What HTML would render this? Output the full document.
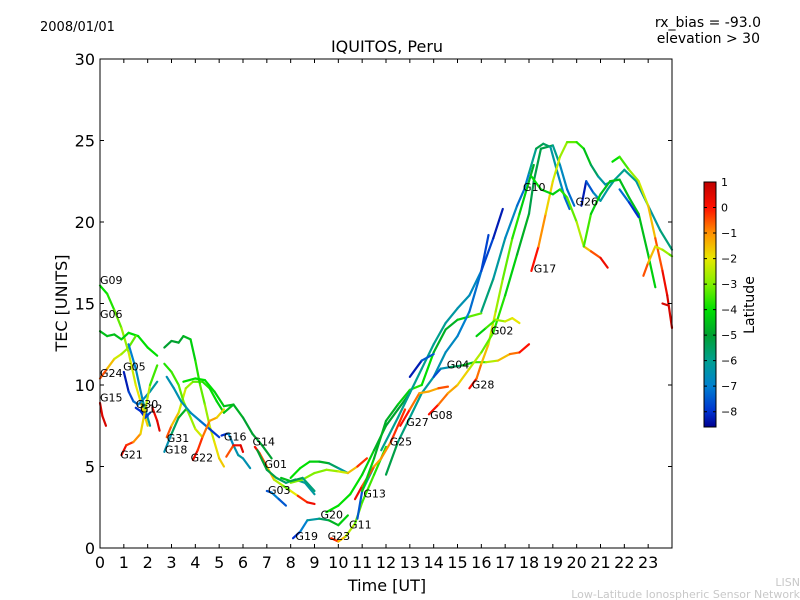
<!DOCTYPE html>
<html><head><meta charset="utf-8"><style>
body{margin:0;background:#fff;}
svg{display:block;font-family:"DejaVu Sans","Liberation Sans",sans-serif;}
</style></head><body>
<svg id="chart" width="800" height="600" viewBox="0 0 800 600">
<defs>
<linearGradient id="cbgrad" x1="0" y1="1" x2="0" y2="0">
<stop offset="0" stop-color="#00008f"/>
<stop offset="0.062" stop-color="#0030d0"/>
<stop offset="0.167" stop-color="#0080d0"/>
<stop offset="0.271" stop-color="#00a090"/>
<stop offset="0.375" stop-color="#00a030"/>
<stop offset="0.479" stop-color="#00e000"/>
<stop offset="0.583" stop-color="#80f000"/>
<stop offset="0.688" stop-color="#e8e800"/>
<stop offset="0.792" stop-color="#ff9000"/>
<stop offset="0.896" stop-color="#ff1000"/>
<stop offset="1" stop-color="#c00000"/>
</linearGradient>
</defs>
<text x="40" y="31" font-size="13">2008/01/01</text>
<text x="761" y="27" font-size="14" text-anchor="end">rx_bias = -93.0</text>
<text x="760" y="43" font-size="14" text-anchor="end">elevation &gt; 30</text>
<text x="387" y="52" font-size="16" text-anchor="middle">IQUITOS, Peru</text>
<g id="traces"></g>
<g id="labels"></g>
<rect x="100" y="59" width="572" height="489" fill="none" stroke="#000" stroke-width="1"/>
<g id="xaxis"></g>
<g id="yaxis"></g>
<text x="387" y="591" font-size="16" text-anchor="middle">Time [UT]</text>
<text transform="translate(67,303) rotate(-90)" font-size="16" text-anchor="middle">TEC [UNITS]</text>
<rect x="704" y="182" width="12" height="245" fill="url(#cbgrad)" stroke="#000" stroke-width="1"/>
<g id="cbticks"></g>
<text transform="translate(754,305) rotate(-90)" font-size="14" text-anchor="middle">Latitude</text>
<text x="800" y="586" font-size="11" fill="#c8c8c8" text-anchor="end">LISN</text>
<text x="800" y="598" font-size="11" fill="#c8c8c8" text-anchor="end">Low-Latitude Ionospheric Sensor Network</text>
</svg>
<script>
const xTicks=[0,1,2,3,4,5,6,7,8,9,10,11,12,13,14,15,16,17,18,19,20,21,22,23];
const yTicks=[0,5,10,15,20,25,30];
const cbTicks=[1,0,-1,-2,-3,-4,-5,-6,-7,-8];
const satNames=["G09","G06","G24","G05","G15","G30","G12","G21","G31","G18","G16","G22","G14","G01","G03","G19","G20","G23","G11","G13","G25","G27","G08","G28","G04","G02","G17","G10","G26"];
const satLabelT=[0,0,0,0.97,0,1.5,1.68,0.85,2.8,2.72,5.2,3.8,6.4,6.9,7.05,8.2,9.25,9.55,10.45,11.05,12.15,12.85,13.85,15.6,14.55,16.4,18.2,17.75,19.95];
const satLabelV=[16.2,14.1,10.5,10.9,9.0,8.6,8.3,5.5,6.5,5.8,6.6,5.3,6.3,4.9,3.3,0.5,1.8,0.5,1.2,3.1,6.3,7.5,7.9,9.8,11.0,13.1,16.9,21.9,21.0];
const traceT=[
[0,0.3,0.6,0.9,1.2,1.5,1.8,2.0],
[0,0.3,0.6,0.9,1.2,1.6,2.0,2.4],
[0,0.3,0.6,0.9,1.2,1.5],
[1.0,1.2,1.4,1.6,1.8,2.1,2.4],
[1.2,1.5,1.8,2.1],
[0,0.1,0.25],
[1.5,1.8,2.0],
[1.7,1.9,2.1],
[0.9,1.1,1.4,1.7,1.9,2.1,2.4],
[2.2,2.4,2.5],
[2.7,3.0,3.3,3.6,3.8],
[2.8,3.0,3.3,3.6,3.9,4.3,4.6,4.9,5.2,5.6],
[2.7,3.0,3.3,3.5,3.8,4.0,4.2,4.4,4.6,4.8,5.0,5.2],
[2.7,3.0,3.3,3.5,3.8,4.0,4.3],
[2.8,3.1,3.4,3.8,4.2,4.6,5.0],
[3.5,4.0,4.4,4.8,5.2,5.6,6.0,6.4,6.8,7.2],
[3.9,4.1,4.3,4.6,4.9,5.2],
[5.1,5.3,5.4,5.6,5.8,6.0,6.3],
[5.3,5.6,5.9,6.0],
[6.5,6.7,7.0,7.3,7.7,8.0,8.3,8.7,9.0],
[6.6,7.0,7.4,7.8,8.2,8.6,9.0],
[7.0,7.2,7.5,7.8],
[8.0,8.4,8.8,9.2,9.6,10.0,10.4],
[8.0,8.5,9.0,9.5,10.0,10.4,10.8,11.2],
[7.6,8.0,8.5,9.0],
[8.1,8.4,8.7,9.2,9.6,10.0,10.4],
[9.5,10.0,10.5,11.0,11.5,12.0,12.5,13.0],
[9.7,10.0,10.3,10.7,11.0,11.5,12.0],
[10.8,11.0,11.5],
[10.7,11.0,11.5,11.8,12.2,12.5,12.8],
[11.0,11.5,12.0,12.5,13.0,13.5,14.0,14.5,15.0,15.5,16.0],
[11.8,12.5,13.0,13.5,14.0,14.5,15.0,15.5,16.0,16.3],
[12.0,12.5,13.0,13.5,14.0,14.5,15.0,15.5,16.0,16.5,16.9],
[13.0,13.5,14.0],
[14.0,14.3,14.7,15.2,15.7,16.2,16.7,17.2,17.6,18.0],
[15.5,15.8,16.0,16.3,16.6,16.9,17.3,17.6,18.0,18.2],
[13.8,14.2,14.6,15.0,15.5,16.0,16.5,17.0,17.5,18.0,18.2,18.5,19.0,19.3,19.6,19.9],
[12.6,13.0,13.4,13.8,14.2,14.6],
[15.8,16.2,16.6,17.0,17.3,17.6],
[16.0,16.5,17.0,17.5,17.8,18.0,18.3,18.6,18.9,19.2,19.5,19.7],
[18.1,18.4,18.7,19.0,19.3,19.6,20.0,20.3,20.6,20.9,21.2,21.5],
[20.2,20.4,20.7,21.0,21.3,21.6,22.0,22.5,23.0,23.5,24.0],
[18.1,18.5,19.0,19.3,19.6,20.0,20.3,20.6,21.0,21.3],
[20.3,20.6,21.0,21.4,21.8,22.2,22.6,23.0,23.3],
[21.5,21.8,22.2,22.6,23.0,23.3,23.6,23.8,24.0],
[22.8,23.0,23.3,23.6,23.9,24.0],
[21.8,22.2,22.6],
[23.6,23.8]
];
const traceV=[
[16.1,15.6,14.6,13.5,12.0,10.0,8.5,7.5],
[13.3,13.0,13.1,12.8,13.2,13.0,12.3,11.8],
[10.4,11.0,11.6,11.9,12.3,13.0],
[10.8,9.6,9.0,8.8,9.1,9.6,10.2],
[12.5,11.0,9.0,7.5],
[8.9,8.1,7.5],
[8.6,8.3,8.1],
[8.4,8.0,8.3],
[5.7,6.3,6.5,7.0,8.5,10.0,11.2],
[8.6,7.8,7.2],
[5.9,7.0,8.0,8.5,8.3],
[6.8,7.5,8.3,9.8,10.2,10.2,9.8,9.0,8.3,8.8],
[12.3,12.7,12.6,13.0,12.8,11.5,10.0,8.8,7.5,6.5,5.5,5.0],
[11.3,10.8,10.0,9.0,8.0,7.3,6.8],
[10.5,9.8,9.0,8.3,7.8,7.3,6.8],
[10.2,10.4,10.3,9.6,8.7,8.8,8.0,7.0,6.3,5.5],
[5.4,6.0,6.8,7.8,8.0,8.5],
[6.9,7.0,7.0,6.3,5.7,5.5,4.9],
[5.6,6.3,6.3,5.9],
[6.2,5.8,5.0,4.2,3.8,3.5,3.2,2.8,2.7],
[6.0,4.8,4.3,4.0,4.2,4.0,3.3],
[3.5,3.4,3.0,2.6],
[4.3,4.9,5.3,5.3,5.2,4.9,4.6],
[4.0,4.2,4.6,4.8,4.7,4.6,5.0,5.5],
[4.3,4.1,4.3,3.5],
[0.6,1.0,1.7,1.8,1.7,1.4,2.0],
[2.2,2.6,3.3,4.5,6.0,7.5,8.5,9.5],
[0.6,0.4,0.7,1.5,2.8,4.5,6.2],
[1.8,3.5,5.0],
[3.0,3.8,5.0,5.5,6.5,7.5,8.5],
[3.5,5.5,7.8,8.8,9.7,10.0,12.0,13.4,14.0,14.2,14.4],
[6.0,8.0,9.5,11.0,12.5,13.8,14.7,15.5,17.0,19.2],
[4.5,6.5,8.0,9.5,10.5,12.0,13.0,14.5,17.0,19.0,20.8],
[10.5,11.5,11.9],
[10.5,11.0,11.1,11.2,11.4,11.4,11.5,11.9,12.0,12.5],
[9.8,10.4,11.3,12.5,14.5,16.5,19.0,20.5,22.5,23.5],
[8.2,8.8,9.5,10.0,11.0,12.0,13.2,15.5,18.0,20.5,22.5,24.5,24.7,23.5,22.0,21.0],
[7.5,8.5,9.5,9.6,9.8,9.9],
[13.0,13.5,14.0,13.9,14.1,13.8],
[14.5,16.5,19.0,21.0,22.0,23.0,24.5,24.8,24.6,23.0,21.5,20.8],
[17.0,18.5,20.5,22.5,24.0,24.9,24.9,24.5,23.5,22.8,22.3,22.5],
[21.0,22.5,21.8,21.3,22.0,22.6,23.2,22.5,21.0,19.5,18.3],
[22.8,22.0,21.7,22.0,21.5,20.0,18.5,18.2,17.8,17.2],
[18.5,20.5,21.7,22.5,22.6,21.5,20.5,18.0,16.0],
[23.7,24.0,23.2,22.5,21.0,19.0,17.0,15.5,13.5],
[16.7,17.5,18.5,18.3,18.0,17.9],
[22.0,21.2,20.3],
[15.0,14.9]
];
const traceLat=[
[-4,-4,-3.5,-3,-2.5,-2,-2,-1.5],
[-4.5,-4.5,-4.5,-4.5,-4,-4,-4,-4],
[0,-1,-2,-2.5,-3,-3.5],
[-8.5,-8,-7.5,-7,-7,-6.5,-6],
[-7,-7,-6.5,-6],
[0.5,0.5,0.8],
[-8,-8,-8],
[-8.2,-8,-7.5],
[0.5,0,-0.5,-1.5,-2,-3,-4],
[0,0.5,0.5],
[-7,-6,-5,-4.5,-4.5],
[0,-1,-2,-2.5,-3,-3.5,-4,-4,-4.5,-4.5],
[-5,-5,-5,-4.8,-4.5,-4,-3.5,-3,-2.5,-2,-1.8,-1.5],
[-4,-3.5,-3.5,-3,-3,-2.5,-2],
[-6.5,-6.5,-6.5,-6.5,-7,-7.5,-8.2],
[-4,-4,-4,-4,-4.5,-4.5,-5,-5,-5,-5],
[0.5,0,-0.5,-1,-1.5,-2],
[-8,-8,-7,-6.5,-6.5,-6,-7],
[-1,0,0.5,0.5],
[0.5,0,-1,-2,-3,-3.5,-0.5,0,0.5],
[-5,-5,-5.5,-5.5,-6,-6,-6.5],
[-8.2,-7,-7,-8],
[-4,-4,-4,-4.5,-5,-6,-6.5],
[-3,-3,-3,-3,-2.5,-2,-1,0.5],
[-4,-5,-5.5,-6],
[-8.5,-7.5,-6.5,-6,-5,-4.5,-4],
[-4,-4,-4,-4,-4.5,-5,-5,-5],
[0.5,-1,-2,-3,-3.5,-3.5,-4],
[-8,-7,-5],
[0.5,0,-1,-1.5,-0.5,0,-0.5],
[-4,-4.5,-5,-4.5,-4,-3.5,-4.5,-5,-4.5,-4,-2.5],
[-6,-6,-6,-6,-6,-6,-6.5,-6.5,-7,-8.5],
[-5,-5.5,-6,-6,-6.5,-6.5,-7,-7,-7.5,-8,-8.5],
[-8.5,-8,-7],
[-8.2,-7,-6,-5,-4,-3,-2,-1,-0.5,0.5],
[0.5,-0.5,-1,-2,-2.5,-3,-3.5,-4,-4.5,-5],
[0.5,-0.5,-1,-1.5,-2,-3,-3.5,-4,-4.5,-5,-5.5,-5,-5.5,-6.5,-7,-7.5],
[0.5,-0.5,-1,-1.5,-1,0],
[-4.5,-4,-3,-2.5,-2,-2],
[-5.5,-6,-6.5,-7,-7.5,-6.5,-5.5,-5,-6,-6.5,-7,-7.5],
[0.5,-0.5,-1.5,-2,-2.5,-3,-3.5,-4,-5,-6,-6.5,-7],
[-8.5,-8,-7,-6.5,-6,-6,-6,-6,-6.5,-6,-5.5],
[-4,-4,-4.5,-4,-3.5,-3,-2,-1,0,0.5],
[-3,-4,-4.5,-4.5,-4.5,-4.5,-4.5,-4.5,-4],
[-4,-4,-3,-2.5,-2,-1,0,0.5,0.8],
[0,-1,-2,-2.5,-3,-3.5],
[-7,-7.5,-8.5],
[0.5,0.8]
];
const NS="http://www.w3.org/2000/svg";
const X0=100,X1=672,Y0=548,Y1=59;
function xs(t){return X0+(t/24)*(X1-X0);}
function ys(v){return Y0-(v/30)*(Y0-Y1);}
function cy(l){return 427-(l+8.6)/9.6*245;}
const stops=[[-8.6,[0,0,143]],[-8,[0,48,208]],[-7,[0,128,208]],[-6,[0,160,144]],[-5,[0,160,48]],[-4,[0,224,0]],[-3,[128,240,0]],[-2,[232,232,0]],[-1,[255,144,0]],[0,[255,16,0]],[1,[192,0,0]]];
function col(l){
  if(l<=stops[0][0])return "rgb("+stops[0][1]+")";
  for(let i=1;i<stops.length;i++){
    if(l<=stops[i][0]){const a=stops[i-1],b=stops[i];const f=(l-a[0])/(b[0]-a[0]);
      const c=a[1].map((v,k)=>Math.round(v+(b[1][k]-v)*f));return "rgb("+c.join(",")+")";}
  }
  return "rgb(192,0,0)";
}
const tg=document.getElementById("traces");
traceT.forEach((ts,i)=>{
  const g=document.createElementNS(NS,"g");
  
  
  for(let j=0;j<ts.length-1;j++){
    const ln=document.createElementNS(NS,"line");
    ln.setAttribute("x1",xs(ts[j]));ln.setAttribute("y1",ys(traceV[i][j]));
    ln.setAttribute("x2",xs(ts[j+1]));ln.setAttribute("y2",ys(traceV[i][j+1]));
    ln.setAttribute("stroke",col((traceLat[i][j]+traceLat[i][j+1])/2));
    ln.setAttribute("stroke-width","2.2");ln.setAttribute("stroke-linecap","round");
    
    
    g.appendChild(ln);
  }
  tg.appendChild(g);
});
const lg=document.getElementById("labels");
satNames.forEach((n,i)=>{
  const t=document.createElementNS(NS,"text");
  t.setAttribute("x",xs(satLabelT[i]));t.setAttribute("y",ys(satLabelV[i]));
  t.setAttribute("font-size","11");t.textContent=n;
  
  
  lg.appendChild(t);
});
const xg=document.getElementById("xaxis");
xTicks.forEach(v=>{
  const x=xs(v);
  const tk=document.createElementNS(NS,"path");
  tk.setAttribute("d",`M${x},${Y0}v-4M${x},${Y1}v4`);tk.setAttribute("stroke","#000");
  
  
  xg.appendChild(tk);
  const t=document.createElementNS(NS,"text");
  t.setAttribute("x",x);t.setAttribute("y",568);t.setAttribute("font-size","16");t.setAttribute("text-anchor","middle");
  t.textContent=v;
  
  
  xg.appendChild(t);
});
const yg=document.getElementById("yaxis");
yTicks.forEach(v=>{
  const y=ys(v);
  const tk=document.createElementNS(NS,"path");
  tk.setAttribute("d",`M${X0},${y}h4M${X1},${y}h-4`);tk.setAttribute("stroke","#000");
  
  
  yg.appendChild(tk);
  const t=document.createElementNS(NS,"text");
  t.setAttribute("x",95);t.setAttribute("y",y+6);t.setAttribute("font-size","16");t.setAttribute("text-anchor","end");
  t.textContent=v;
  
  
  yg.appendChild(t);
});
const cg=document.getElementById("cbticks");
cbTicks.forEach(v=>{
  const y=cy(v);
  const tk=document.createElementNS(NS,"path");
  tk.setAttribute("d",`M704,${y}h3M716,${y}h-3`);tk.setAttribute("stroke","#000");
  
  
  cg.appendChild(tk);
  const t=document.createElementNS(NS,"text");
  t.setAttribute("x",721);t.setAttribute("y",y+4);t.setAttribute("font-size","11");
  t.textContent=v<0?"\u2212"+(-v):v;
  
  
  cg.appendChild(t);
});
</script>
</body></html>
